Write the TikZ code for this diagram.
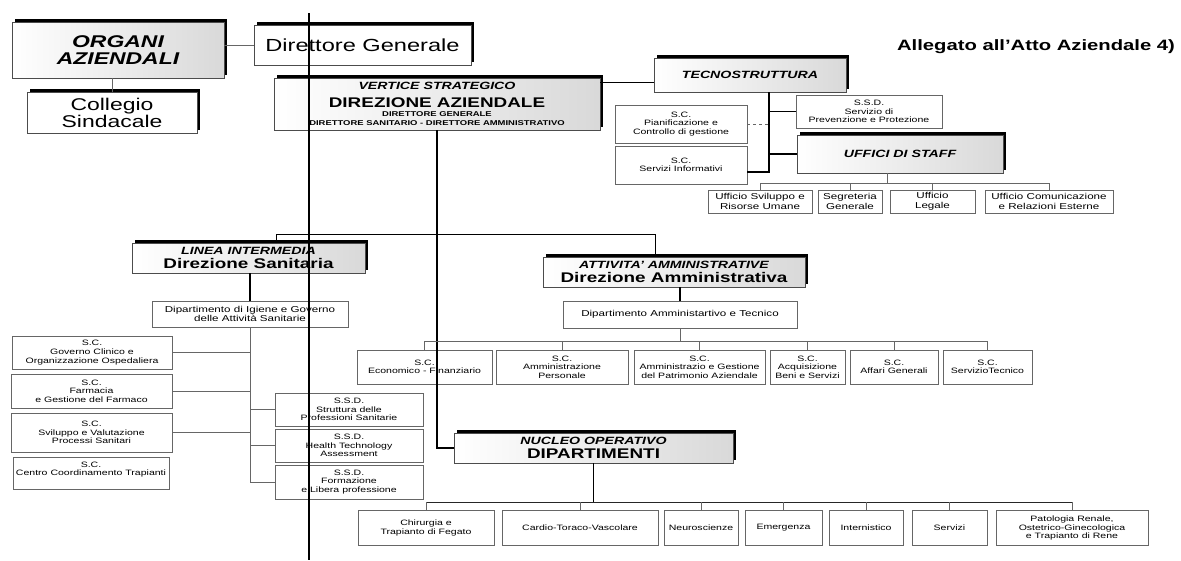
\documentclass[tikz,border=0pt]{standalone}
\usepackage{fontspec}
\setmainfont{Liberation Sans}[FakeStretch=1.35]
\usetikzlibrary{shadows,calc}
\newcommand\fsm{\fontsize{7.8}{8.6}\selectfont}
\newcommand\fmd{\fontsize{8.6}{9.5}\selectfont}
\newcommand\fhd{\fontsize{10.5}{12}\selectfont\bfseries\itshape}
\newcommand\fbg{\fontsize{14}{15}\selectfont\bfseries\upshape}
\begin{document}
\begin{tikzpicture}[x=1pt,y=-1pt,
  wh/.style 2 args={minimum width=#1pt, minimum height=#2pt},
  box/.style={draw=black!70, line width=.6pt, fill=white, inner sep=0pt, outer sep=0pt, align=center, text=black},
  sm/.style={box, draw=black!60, font=\fsm},
  md/.style={box, draw=black!60, font=\fmd},
  shad/.style={drop shadow={shadow xshift=3pt, shadow yshift=3pt, fill=black, opacity=1}},
  hdr/.style={box, shad, left color=white, right color=black!15, font=\fhd},
  wire/.style={draw=black!60, line width=.6pt},
  link/.style={draw=black, line width=1.3pt},
  bus/.style={draw=black!85, line width=.9pt},
  ]
\useasboundingbox[fill=white] (0,0) rectangle (1181,560);

% top level
\node[hdr, wh={212}{56}, font=\fontsize{17}{17}\selectfont\bfseries\itshape] (organi) at (118,50) {ORGANI\\AZIENDALI};
\node[box, shad, wh={217}{40}, font=\fontsize{17.5}{18}\selectfont] (dg) at (362.5,45) {Direttore Generale};
\node[box, shad, wh={170}{41}, font=\fontsize{17}{17}\selectfont] (collegio) at (112,112.5) {Collegio\\Sindacale};
\node[font=\fontsize{15}{15}\selectfont\bfseries, inner sep=0pt] (allegato) at (1036,47) {Allegato all'Atto Aziendale 4)};

\node[hdr, wh={326}{52}, font=\fontsize{7}{8.5}\selectfont\bfseries] (vertice) at (437,104)
  {{\fhd VERTICE STRATEGICO}\\[7.5pt]{\fbg DIREZIONE AZIENDALE}\\DIRETTORE GENERALE\\[1pt]DIRETTORE SANITARIO - DIRETTORE AMMINISTRATIVO};

% tecnostruttura
\node[hdr, wh={192}{34}] (tecno) at (750,75) {TECNOSTRUTTURA};
\node[sm, wh={132}{38}] (pian) at (681,124) {S.C.\\Pianificazione e\\Controllo di gestione};
\node[sm, wh={132}{38}] (servinf) at (681,165) {S.C.\\Servizi Informativi};
\node[sm, wh={146}{33}] (ssdprev) at (869,111.5) {S.S.D.\\Servizio di\\Prevenzione e Protezione};
\node[hdr, wh={206}{38}] (uffici) at (900,154) {UFFICI DI STAFF};
\node[md, wh={104}{23}] (usv) at (760,201.5) {Ufficio Sviluppo e\\Risorse Umane};
\node[md, wh={64}{23}] (sgr) at (850,201.5) {Segreteria\\Generale};
\node[md, wh={85}{23}] (leg) at (932.5,201.5) {Ufficio\\Legale};
\node[md, wh={128}{23}] (com) at (1049,201.5) {Ufficio Comunicazione\\e Relazioni Esterne};

% linea intermedia
\node[hdr, wh={233}{30}] (linea) at (248.5,258) {LINEA INTERMEDIA\\[2pt]{\fbg Direzione Sanitaria}};
\node[md, wh={196}{26}] (dipsan) at (250,314) {Dipartimento di Igiene e Governo\\delle Attività Sanitarie};
\node[sm, wh={160}{33}] (gov) at (92,352.5) {S.C.\\Governo Clinico e\\Organizzazione Ospedaliera};
\node[sm, wh={161}{34}] (farm) at (91.5,391) {S.C.\\Farmacia\\e Gestione del Farmaco};
\node[sm, wh={161}{39}] (svil) at (91.5,432.5) {S.C.\\Sviluppo e Valutazione\\Processi Sanitari};
\node[sm, wh={156}{32}] (centro) at (91,473) {S.C.\\Centro Coordinamento Trapianti\\\mbox{}};
\node[sm, wh={148}{33}] (strutt) at (349,409.5) {S.S.D.\\Struttura delle\\Professioni Sanitarie};
\node[sm, wh={148}{33}] (hta) at (349,445.5) {S.S.D.\\Health Technology\\Assessment};
\node[sm, wh={148}{34}] (form) at (349,482) {S.S.D.\\Formazione\\e Libera professione};

% attivita amministrative
\node[hdr, wh={262}{30}] (attiv) at (674,272) {ATTIVITA' AMMINISTRATIVE\\[2pt]{\fbg Direzione Amministrativa}};
\node[md, wh={234}{27}] (dipamm) at (680,314.5) {Dipartimento Amministartivo e Tecnico};
\node[sm, wh={135}{34}] (econ) at (424.5,367) {S.C.\\Economico - Finanziario};
\node[sm, wh={132}{34}] (pers) at (562,367) {S.C.\\Amministrazione\\Personale};
\node[sm, wh={131}{34}] (patr) at (699.5,367) {S.C.\\Amministrazio e Gestione\\del Patrimonio Aziendale};
\node[sm, wh={75}{34}] (acq) at (807.5,367) {S.C.\\Acquisizione\\Beni e Servizi};
\node[sm, wh={88}{34}] (aff) at (894,367) {S.C.\\Affari Generali};
\node[sm, wh={89}{34}] (tec) at (987.5,367) {S.C.\\ServizioTecnico};

% nucleo operativo
\node[hdr, wh={279}{30}] (nucleo) at (593.5,448) {NUCLEO OPERATIVO\\[2pt]{\fbg DIPARTIMENTI}};
\node[sm, wh={136}{35}] (chir) at (426,528) {Chirurgia e\\Trapianto di Fegato};
\node[sm, wh={156}{35}] (card) at (580,528) {Cardio-Toraco-Vascolare};
\node[sm, wh={74}{35}] (neuro) at (701,528) {Neuroscienze};
\node[sm, wh={77}{35}] (emer) at (783.5,528) {Emergenza};
\node[sm, wh={74}{35}] (inter) at (866,528) {Internistico};
\node[sm, wh={75}{35}] (serv) at (949.5,528) {Servizi};
\node[sm, wh={152}{35}] (pato) at (1072,528) {Patologia Renale,\\Ostetrico-Ginecologica\\e Trapianto di Rene};

% connectors
\draw[wire] (dg.west) -- (dg.west -| organi.east);
\draw[wire] (collegio.north) -- (collegio.north |- organi.south);
\draw[link] (vertice.south) |- (nucleo.west);
\coordinate (lt) at ($(linea.north)+(28,0)$);
\coordinate (lb) at ($(linea.north)+(28,-9)$);
\coordinate (at) at ($(attiv.north)+(-19,0)$);
\draw[link, line width=1pt] (lt) -- (lb) -| (at);
\draw[link] (dipsan.north) -- (dipsan.north |- linea.south);
\draw[link] (dipamm.north) -- (dipamm.north |- attiv.south);

\draw[wire] (dipsan.south) -- (dipsan.south |- form.west);
\foreach \n in {gov,farm,svil} \draw[wire] (\n.east) -- (\n.east -| dipsan.south);
\foreach \n in {strutt,hta,form} \draw[wire] (\n.west) -- (\n.west -| dipsan.south);

\coordinate (ab) at ($(dipamm.south)+(0,13)$);
\draw[wire] (dipamm.south) -- (ab);
\draw[wire] (econ.north |- ab) -- (tec.north |- ab);
\foreach \n in {econ,pers,patr,acq,aff,tec} \draw[wire] (\n.north) -- (\n.north |- ab);

\coordinate (nb) at ($(nucleo.south)+(0,39)$);
\draw[link] (nucleo.south) -- (nb);
\draw[bus] (chir.north |- nb) -- (pato.north |- nb);
\foreach \n in {chir,card,neuro,emer,inter,serv,pato} \draw[wire] (\n.north) -- (\n.north |- nb);

\coordinate (vtr) at ($(vertice.north east)+(0,4)$);
\draw[link, line width=1pt] (vtr) -- (vtr -| tecno.west);
\coordinate (tsp) at ($(tecno.south)+(19,0)$);
\coordinate (tsi) at ($(servinf.east)+(0,7)$);
\draw[link] (tsp) |- (tsi);
\draw[link] (ssdprev.west) -- (ssdprev.west -| tsp);
\draw[link] (uffici.west) -- (uffici.west -| tsp);
\draw[wire, dashed] (pian.east) -- (pian.east -| tsp);

\coordinate (ut) at ($(uffici.south)+(-13,0)$);
\coordinate (ub) at ($(uffici.south)+(-13,10)$);
\draw[wire] (ut) -- (ub);
\draw[wire] (usv.north |- ub) -- (com.north |- ub);
\foreach \n in {usv,sgr,leg,com} \draw[wire] (\n.north) -- (\n.north |- ub);

% long vertical rule across the sheet
\coordinate (vt) at (309,13);
\coordinate (vb) at (309,560);
\draw[line width=1.7pt] (vt) -- (vb);
\end{tikzpicture}
\end{document}
